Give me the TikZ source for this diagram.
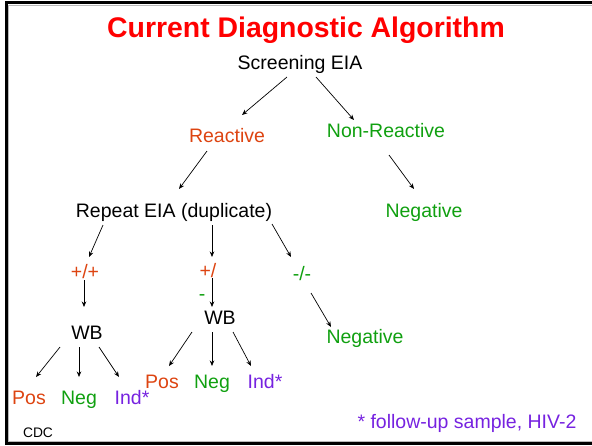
\documentclass[tikz,border=0pt]{standalone}
\usepackage{fontspec}
\setmainfont{Liberation Sans}
\usetikzlibrary{arrows.meta,calc}
\definecolor{titlered}{RGB}{255,0,0}
\definecolor{posred}{RGB}{221,68,17}
\definecolor{neggreen}{RGB}{16,160,16}
\definecolor{indpurple}{RGB}{118,34,224}

\begin{document}
\begin{tikzpicture}[x=1pt,y=-1pt,
  lbl/.style={anchor=base, inner sep=0pt, font=\fontsize{19.5}{20}\selectfont},
  arr/.style={-{Stealth[length=5.5pt,width=4.5pt]}, line width=0.7pt}]
\useasboundingbox (0,0) rectangle (592,445);

% slide frame (open on the right)
\begin{scope}
  \clip (0,0) rectangle (592,445);
  \draw[gray!55, line width=1pt] (8,5) rectangle (700,441.5);
  \draw[line width=3pt] (6,2) rectangle (700,443.5);
\end{scope}

% title
\node[anchor=base, inner sep=0pt, text=titlered,
      font=\bfseries\fontsize{28.4}{30}\selectfont] (title) at (306,37.5) {Current Diagnostic Algorithm};

% labels
\node[lbl] (scr)  at (300,69)  {Screening EIA};
\node[lbl, text=posred]   (react) at (227,142) {Reactive};
\node[lbl, text=neggreen] (nonr)  at (386,137) {Non-Reactive};
\node[lbl] (rep)  at (174,217) {Repeat EIA (duplicate)};
\node[lbl, text=neggreen] (neg1)  at (424,217) {Negative};

\node[lbl, text=posred]   (pp)  at (85,278)  {+/+};
\node[lbl, text=posred]   (pm)  at (208,277) {+/};
\node[lbl, text=neggreen] (pmm) at (202,300) {-};
\node[lbl, text=neggreen] (mm)  at (302,280) {-/-};

\node[lbl] (wb1) at (87,339)  {WB};
\node[lbl] (wb2) at (220,324) {WB};
\node[lbl, text=neggreen] (neg2) at (365,343) {Negative};

\node[lbl, text=posred]    (pos1)  at (29,404)  {Pos};
\node[lbl, text=neggreen]  (nega1) at (79,404)  {Neg};
\node[lbl, text=indpurple] (ind1)  at (132,404) {Ind*};
\node[lbl, text=posred]    (pos2)  at (162,388) {Pos};
\node[lbl, text=neggreen]  (nega2) at (212,388) {Neg};
\node[lbl, text=indpurple] (ind2)  at (265,388) {Ind*};

\node[lbl, text=indpurple] (foot) at (467,428) {* follow-up sample, HIV-2};
\node[anchor=base, inner sep=0pt, font=\fontsize{13.8}{15}\selectfont] (cdc) at (38,437) {CDC};

% connectors
\draw[arr] ($(scr.base)+(-13,8)$)  -- ($(react.base)+(15,-27)$);
\draw[arr] ($(scr.base)+(16,8)$)   -- ($(nonr.base)+(-32,-17)$);
\draw[arr] ($(react.base)+(-20,9)$) -- ($(rep.base)+(5,-28)$);
\draw[arr] ($(nonr.base)+(3,18)$)  -- ($(neg1.base)+(-10,-28)$);

\draw[arr] ($(rep.base)+(-71,8)$) -- ($(pp.base)+(4,-21)$);
\draw[arr] ($(rep.base)+(38,8)$)  -- ($(pm.base)+(4,-20)$);
\draw[arr] ($(rep.base)+(98,7)$)  -- ($(mm.base)+(-11,-23)$);

\draw[arr] ($(pp.base)+(-1,2)$) -- ($(wb1.base)+(-3,-32)$);
\draw[arr] ($(pm.base)+(4,1)$)  -- ($(wb2.base)+(-8,-17)$);
\draw[arr] ($(mm.base)+(9,13)$) -- ($(neg2.base)+(-34,-16)$);

\draw[arr] ($(wb1.base)+(-27,8)$) -- ($(pos1.base)+(7,-27)$);
\draw[arr] ($(wb1.base)+(-8,8)$)  -- ($(nega1.base)+(0,-27)$);
\draw[arr] ($(wb1.base)+(12,8)$)  -- ($(ind1.base)+(-13,-27)$);

\draw[arr] ($(wb2.base)+(-28,8)$) -- ($(pos2.base)+(7,-22)$);
\draw[arr] ($(wb2.base)+(-8,8)$)  -- ($(nega2.base)+(0,-22)$);
\draw[arr] ($(wb2.base)+(13,8)$)  -- ($(ind2.base)+(-14,-22)$);
\end{tikzpicture}
\end{document}
